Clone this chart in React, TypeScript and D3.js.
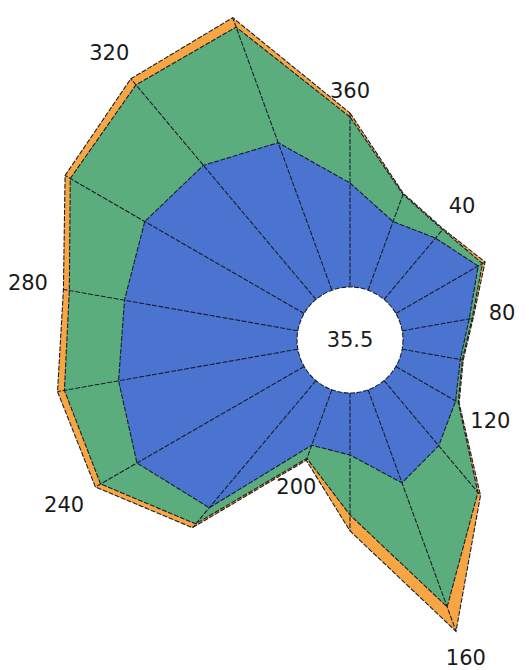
import React from 'react';
import * as d3 from 'd3';

// angles of the spokes (degrees, clockwise from top)
const angles = [0, 20, 40, 60, 80, 100, 120, 140, 160, 180, 200, 220, 240, 260, 280, 300, 320, 340];

// series values (same order as angles)
const orangeValues = [174, 103, 92, 103, 72, 62, 73, 150, 257, 138, 75, 192, 241, 244, 238, 276, 288, 290];
const greenValues = [170, 102, 91, 100, 71, 61, 72, 146, 231, 122, 73, 187, 235, 237, 232, 270, 280, 280];
const blueValues = [104, 73, 80, 95, 68, 59, 69, 85, 99, 62, 59, 166, 193, 182, 176, 184, 175, 157];

// angular tick labels
const tickAngles = [40, 80, 120, 160, 200, 240, 280, 320, 360];
const tickLabels = ['40', '80', '120', '160', '200', '240', '280', '320', '360'];

const centerLabel = '35.5';

const W = 529;
const H = 670;
const cx = 350;
const cy = 340;
const hole = 53;
const font = 'DejaVu Sans, Verdana, sans-serif';
const outline = '#18202e';

export default function App() {
  const r = d3.scaleLinear().domain([0, 300]).range([hole, hole + 300]);
  const a = (deg: number) => (deg * Math.PI) / 180;

  const line = d3
    .lineRadial<number>()
    .angle((_, i) => a(angles[i]))
    .radius(d => r(d))
    .curve(d3.curveLinearClosed);

  const series = [
    { values: orangeValues, color: '#f8a643' },
    { values: greenValues, color: '#5cad7d' },
    { values: blueValues, color: '#4a74cf' },
  ];

  const fontSize = 21;
  const labelPos = (deg: number, text: string) => {
    const idx = angles.indexOf(deg % 360);
    const rr = r(orangeValues[idx]);
    const s = Math.sin(a(deg));
    const c = Math.cos(a(deg));
    const hw = (text.length * 0.636 * fontSize) / 2;
    const hh = 7.5;
    const off = rr + 15 + Math.abs(s) * hw + Math.abs(c) * hh;
    return [off * s, -off * c];
  };

  return (
    <svg
      width={W}
      height={H}
      style={{ position: 'absolute', left: 0, top: 0, background: '#fff' }}
    >
      <g transform={`translate(${cx},${cy})`}>
        {series.map((s, i) => (
          <path
            key={i}
            d={line(s.values) || ''}
            fill={s.color}
            stroke={outline}
            strokeWidth={1.1}
            strokeDasharray="5 1.5"
          />
        ))}

        {angles.map((deg, i) => {
          const rr = r(orangeValues[i]);
          return (
            <line
              key={deg}
              x1={hole * Math.sin(a(deg))}
              y1={-hole * Math.cos(a(deg))}
              x2={rr * Math.sin(a(deg))}
              y2={-rr * Math.cos(a(deg))}
              stroke={outline}
              strokeWidth={1.1}
              strokeDasharray="5 1.5"
            />
          );
        })}

        <circle r={hole} fill="#fff" stroke={outline} strokeWidth={1.1} strokeDasharray="5 1.5" />
        <text
          textAnchor="middle"
          dominantBaseline="central"
          fontFamily={font}
          fontSize={fontSize}
          fill="#1a1a1a"
        >
          {centerLabel}
        </text>

        {tickAngles.map((deg, i) => {
          const [x, y] = labelPos(deg, tickLabels[i]);
          return (
            <text
              key={deg}
              x={x}
              y={y}
              textAnchor="middle"
              dominantBaseline="central"
              fontFamily={font}
              fontSize={fontSize}
              fill="#1a1a1a"
            >
              {tickLabels[i]}
            </text>
          );
        })}
      </g>
    </svg>
  );
}
